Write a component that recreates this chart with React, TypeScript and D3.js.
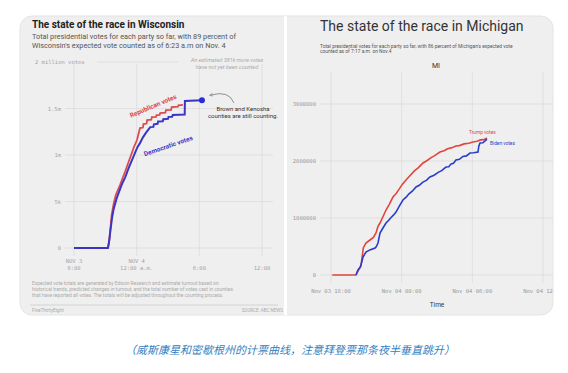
import { useEffect, useRef } from 'react';
import * as d3 from 'd3';

// hours since Nov 3 00:00, votes
const wiDem: [number, number][] = [
  [18, 0], [21.25, 0], [21.35, 60000], [21.5, 200000], [21.65, 330000], [21.8, 420000],
  [22.0, 500000], [22.1, 540000], [22.3, 600000], [22.6, 690000], [22.9, 760000],
  [23.2, 850000], [23.55, 945000], [23.9, 1040000], [24.1, 1090000], [24.3, 1125000],
  [24.6, 1190000], [24.9, 1240000], [25.1, 1270000], [25.3, 1300000], [25.6, 1302000],
  [25.65, 1330000], [26.0, 1335000], [26.05, 1360000], [26.5, 1362000], [26.55, 1385000],
  [27.0, 1390000], [27.05, 1410000], [27.4, 1412000], [27.45, 1430000], [28.6, 1435000],
  [28.62, 1580000], [30.25, 1590000],
];
const wiRep: [number, number][] = [
  [21.25, 0], [21.4, 100000], [21.6, 350000], [21.8, 480000], [22.0, 570000], [22.4, 677000],
  [22.88, 817000], [23.36, 967000], [23.74, 1086000], [24.03, 1161000], [24.32, 1290000],
  [24.6, 1295000], [24.65, 1333000], [24.95, 1338000], [25.0, 1376000], [25.4, 1380000],
  [25.45, 1408000], [25.85, 1410000], [25.9, 1430000], [26.2, 1432000], [26.25, 1451000],
  [26.75, 1455000], [26.8, 1483000], [27.3, 1486000], [27.35, 1516000], [27.95, 1520000],
  [28.0, 1535000], [28.43, 1540000],
];
const miRep: [number, number][] = [
  [18.1, 0], [20.12, 0], [20.4, 110000], [20.55, 175000], [20.75, 480000], [20.97, 561000],
  [21.31, 614000], [21.6, 660000], [21.82, 737000], [22.0, 860000], [22.16, 912000],
  [22.45, 1040000], [22.67, 1140000], [22.95, 1240000], [23.26, 1368000], [23.5, 1420000],
  [23.8, 1510000], [24.05, 1590000], [24.37, 1666000], [24.7, 1740000], [25.1, 1830000],
  [25.4, 1880000], [25.81, 1965000], [26.1, 2000000], [26.5, 2060000], [26.8, 2095000],
  [27.25, 2158000], [27.6, 2180000], [27.9, 2215000], [28.2, 2230000], [28.61, 2263000],
  [28.9, 2270000], [29.3, 2300000], [29.7, 2310000], [30.05, 2333000], [30.4, 2345000],
  [30.7, 2370000], [31.0, 2375000], [31.24, 2403000],
];
const miDem: [number, number][] = [
  [20.12, 0], [20.29, 88000], [20.5, 140000], [20.72, 316000], [20.97, 403000],
  [21.3, 440000], [21.74, 474000], [21.85, 500000], [21.99, 561000], [22.16, 737000],
  [22.4, 820000], [22.67, 912000], [22.9, 960000], [23.1, 1010000], [23.3, 1050000],
  [23.52, 1105000], [23.8, 1210000], [24.11, 1316000], [24.4, 1370000], [24.6, 1420000],
  [24.9, 1470000], [25.22, 1544000], [25.5, 1575000], [25.8, 1630000], [26.1, 1660000],
  [26.4, 1719000], [26.75, 1750000], [27.1, 1800000], [27.4, 1830000], [27.76, 1894000],
  [28.0, 1900000], [28.2, 1950000], [28.4, 1960000], [28.61, 2017000], [28.9, 2030000],
  [29.2, 2080000], [29.5, 2090000], [29.8, 2140000], [30.1, 2145000], [30.48, 2158000],
  [30.55, 2260000], [30.65, 2315000], [30.9, 2320000], [31.24, 2385000],
];

const wiYTicks = [0, 500000, 1000000, 1500000];
const wiYLabels = ['0', '5k', '1m', '1.5m'];
const wiXTicks = [18, 24, 30, 36];
const wiXLabels = [['NOV 3', '6:00'], ['NOV 4', '12:00 a.m.'], ['', '6:00'], ['', '12:00']];
const miYTicks = [0, 1000000, 2000000, 3000000];
const miXTicks = [18, 24, 30, 36];
const miXLabels = ['Nov 03 18:00', 'Nov 04 00:00', 'Nov 04 06:00', 'Nov 04 12:00'];
const wiNotes = [
  'Expected vote totals are generated by Edison Research and estimate turnout based on',
  'historical trends, predicted changes in turnout, and the total number of votes cast in counties',
  'that have reported all votes. The totals will be adjusted throughout the counting process.',
];

const base = new Date(2020, 10, 3).getTime();
const toDate = (h: number) => new Date(base + h * 3600e3);

export default function App() {
  const svgRef = useRef<SVGSVGElement>(null);

  useEffect(() => {
    if (!svgRef.current) return;
    const svg = d3.select(svgRef.current);
    svg.selectAll('*').remove();
    const mono = '"DejaVu Sans Mono", monospace';
    const sans = 'Roboto, "Noto Sans", sans-serif';

    const defs = svg.append('defs');
    defs.append('clipPath').attr('id', 'rclip').append('rect')
      .attr('x', 287).attr('y', 16).attr('width', 266).attr('height', 300);
    defs.append('marker').attr('id', 'arr').attr('viewBox', '0 0 10 10')
      .attr('refX', 5).attr('refY', 5).attr('markerWidth', 5).attr('markerHeight', 5)
      .attr('orient', 'auto-start-reverse')
      .append('path').attr('d', 'M0,1 L9,5 L0,9').attr('fill', 'none').attr('stroke', '#777').attr('stroke-width', 1.5);

    // frame
    svg.append('rect').attr('x', 20).attr('y', 16).attr('width', 533).attr('height', 299)
      .attr('rx', 12).attr('fill', '#efefef').attr('stroke', '#e4e4e4');
    svg.append('line').attr('x1', 285.5).attr('x2', 285.5).attr('y1', 16).attr('y2', 315)
      .attr('stroke', '#fff').attr('stroke-width', 3);

    // ---------- Wisconsin ----------
    const xW = d3.scaleTime().domain([toDate(18), toDate(36)]).range([74, 262]);
    const yW = d3.scaleLinear().domain([0, 2000000]).range([248, 62]);
    const w = svg.append('g');

    w.append('text').attr('x', 32).attr('y', 28).text('The state of the race in Wisconsin')
      .style('font-family', sans).style('font-weight', 'bold').style('font-size', '10px').attr('fill', '#222');
    ["Total presidential votes for each party so far, with 89 percent of",
      "Wisconsin's expected vote counted as of 6:23 a.m on Nov. 4"].forEach((t, i) => {
      w.append('text').attr('x', 32).attr('y', 39 + i * 9).text(t)
        .style('font-family', sans).style('font-size', '7.3px').attr('fill', '#555');
    });

    wiXTicks.forEach(h => {
      w.append('line').attr('x1', xW(toDate(h))).attr('x2', xW(toDate(h)))
        .attr('y1', 64).attr('y2', 256).attr('stroke', '#dcdcdc').attr('stroke-width', 0.8);
    });
    wiYTicks.forEach((v, i) => {
      w.append('line').attr('x1', 65).attr('x2', 273).attr('y1', yW(v)).attr('y2', yW(v))
        .attr('stroke', '#dcdcdc').attr('stroke-width', 0.8);
      w.append('text').attr('x', 61).attr('y', yW(v) + 2).attr('text-anchor', 'end').text(wiYLabels[i])
        .style('font-family', mono).style('font-size', '5.5px').attr('fill', '#a5a5a5');
    });
    w.append('line').attr('x1', 97).attr('x2', 178).attr('y1', yW(2000000)).attr('y2', yW(2000000))
      .attr('stroke', '#dcdcdc').attr('stroke-width', 0.8);
    w.append('text').attr('x', 35).attr('y', yW(2000000) + 2).text('2 million votes')
      .style('font-family', mono).style('font-size', '5.5px').attr('fill', '#a5a5a5');
    wiXTicks.forEach((h, i) => {
      wiXLabels[i].forEach((t, j) => {
        w.append('text').attr('x', xW(toDate(h))).attr('y', 263 + j * 7).attr('text-anchor', 'middle').text(t)
          .style('font-family', mono).style('font-size', '5.5px').attr('fill', '#a5a5a5');
      });
    });

    ['An estimated 381k more votes', 'have not yet been counted'].forEach((t, i) => {
      w.append('text').attr('x', 227).attr('y', 62 + i * 7).attr('text-anchor', 'middle').text(t)
        .style('font-family', sans).style('font-style', 'italic').style('font-size', '5.5px').attr('fill', '#aaa');
    });
    ['Brown and Kenosha', 'counties are still counting.'].forEach((t, i) => {
      w.append('text').attr('x', 243).attr('y', 111 + i * 7).attr('text-anchor', 'middle').text(t)
        .style('font-family', sans).style('font-size', '6px').attr('fill', '#333');
    });
    w.append('path').attr('d', 'M234,103 Q229,90 211,95').attr('fill', 'none')
      .attr('stroke', '#777').attr('stroke-width', 0.8).attr('marker-end', 'url(#arr)');

    const lineW = d3.line<[number, number]>()
      .x(d => xW(toDate(d[0]))).y(d => yW(d[1]));
    w.append('path').attr('d', lineW(wiRep)).attr('fill', 'none').attr('stroke', '#dd4a50').attr('stroke-width', 1.8);
    w.append('path').attr('d', lineW(wiDem)).attr('fill', 'none').attr('stroke', '#3a36c4').attr('stroke-width', 2);
    const last = wiDem[wiDem.length - 1];
    w.append('circle').attr('cx', xW(toDate(last[0]))).attr('cy', yW(last[1])).attr('r', 3).attr('fill', '#2a2ae0');

    w.append('text').attr('transform', 'translate(154,108) rotate(-23)').attr('text-anchor', 'middle')
      .text('Republican votes').style('font-family', sans).style('font-weight', 'bold')
      .style('font-size', '6.5px').attr('fill', '#d9434b');
    w.append('text').attr('transform', 'translate(169,148) rotate(-19)').attr('text-anchor', 'middle')
      .text('Democratic votes').style('font-family', sans).style('font-weight', 'bold')
      .style('font-size', '6.5px').attr('fill', '#3a36c4');

    wiNotes.forEach((t, i) => {
      w.append('text').attr('x', 32).attr('y', 285 + i * 6).text(t)
        .style('font-family', sans).style('font-size', '4.9px').attr('fill', '#aaa');
    });
    w.append('line').attr('x1', 30).attr('x2', 278).attr('y1', 305).attr('y2', 305).attr('stroke', '#ccc').attr('stroke-width', 0.8);
    w.append('text').attr('x', 32).attr('y', 312).text('FiveThirtyEight')
      .style('font-family', sans).style('font-size', '4.8px').attr('fill', '#aaa');
    w.append('text').attr('x', 283).attr('y', 312).attr('text-anchor', 'end').text('SOURCE: ABC NEWS')
      .style('font-family', sans).style('font-size', '4.5px').attr('fill', '#aaa');

    // ---------- Michigan ----------
    const xM = d3.scaleTime().domain([toDate(18), toDate(36)]).range([331, 543]);
    const yM = d3.scaleLinear().domain([0, 3000000]).range([275, 104]);
    const m = svg.append('g').attr('clip-path', 'url(#rclip)');

    m.append('text').attr('x', 320).attr('y', 31).text('The state of the race in Michigan')
      .style('font-family', sans).style('font-size', '14px').attr('fill', '#333');
    ["Total presidential votes for each party so far, with 86 percent of Michigan's expected vote",
      'counted as of 7:17 a.m. on Nov.4'].forEach((t, i) => {
      m.append('text').attr('x', 320).attr('y', 48 + i * 5).text(t)
        .style('font-family', sans).style('font-size', '4.9px').attr('fill', '#555');
    });
    m.append('text').attr('x', 436).attr('y', 68).attr('text-anchor', 'middle').text('MI')
      .style('font-family', sans).style('font-size', '7px').attr('fill', '#333');

    miXTicks.forEach(h => {
      m.append('line').attr('x1', xM(toDate(h))).attr('x2', xM(toDate(h)))
        .attr('y1', 72).attr('y2', 283).attr('stroke', '#dcdcdc').attr('stroke-width', 0.8);
    });
    miYTicks.forEach(v => {
      m.append('line').attr('x1', 320).attr('x2', 553).attr('y1', yM(v)).attr('y2', yM(v))
        .attr('stroke', '#dcdcdc').attr('stroke-width', 0.8);
      m.append('text').attr('x', 316).attr('y', yM(v) + 2).attr('text-anchor', 'end').text(String(v))
        .style('font-family', mono).style('font-size', '5.5px').attr('fill', '#999');
    });
    miXTicks.forEach((h, i) => {
      m.append('text').attr('x', xM(toDate(h))).attr('y', 293).attr('text-anchor', 'middle').text(miXLabels[i])
        .style('font-family', mono).style('font-size', '5.5px').attr('fill', '#999');
    });
    m.append('text').attr('x', 437).attr('y', 307).attr('text-anchor', 'middle').text('Time')
      .style('font-family', sans).style('font-size', '6.5px').attr('fill', '#333');

    const lineM = d3.line<[number, number]>().x(d => xM(toDate(d[0]))).y(d => yM(d[1]));
    m.append('path').attr('d', lineM(miRep)).attr('fill', 'none').attr('stroke', '#e0463e').attr('stroke-width', 1.6);
    m.append('path').attr('d', lineM(miDem)).attr('fill', 'none').attr('stroke', '#2a3ccc').attr('stroke-width', 1.6);
    m.append('text').attr('x', 469).attr('y', 134).text('Trump votes')
      .style('font-family', sans).style('font-size', '4.8px').attr('fill', '#e0463e');
    m.append('text').attr('x', 490).attr('y', 145).text('Biden votes')
      .style('font-family', sans).style('font-size', '4.8px').attr('fill', '#2a3ccc');

    // caption
    svg.append('text').attr('x', 290).attr('y', 354).attr('text-anchor', 'middle')
      .text('（威斯康星和密歇根州的计票曲线，注意拜登票那条夜半垂直跳升）')
      .style('font-family', '"Noto Sans CJK SC", sans-serif').style('font-style', 'italic')
      .style('font-size', '11px').attr('fill', '#3580bf');
  }, []);

  return (
    <div style={{ position: 'absolute', left: 0, top: 0, width: 568, height: 373, background: '#fff' }}>
      <svg ref={svgRef} width={568} height={373} style={{ display: 'block' }} />
    </div>
  );
}
